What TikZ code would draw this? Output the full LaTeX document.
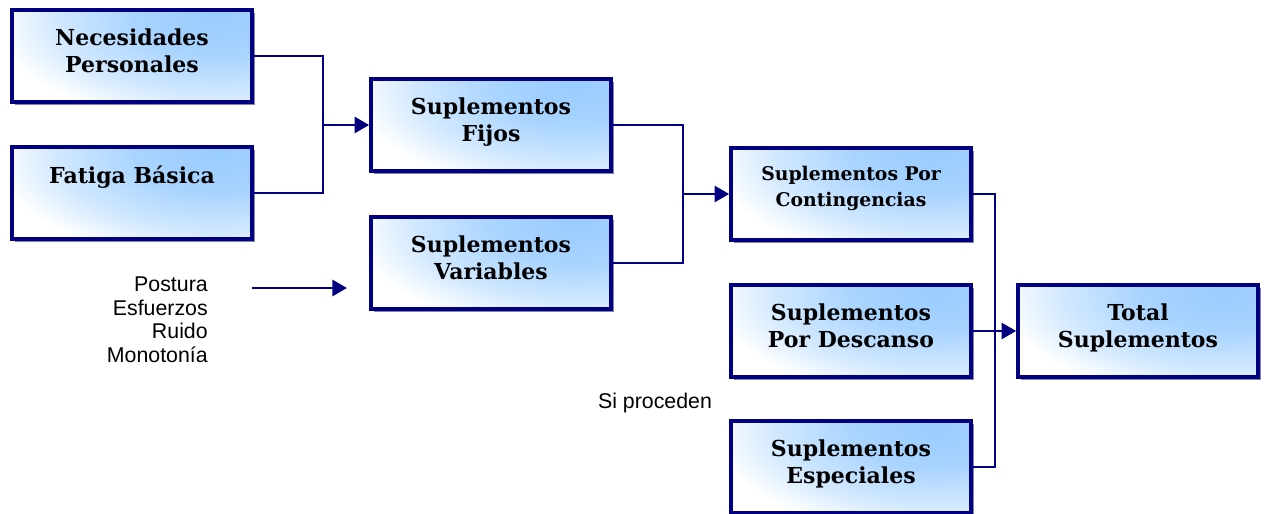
\documentclass[tikz,border=0pt]{standalone}
\usepackage{fontspec}
\setmainfont{DejaVu Serif}
\newfontfamily\arialf{Liberation Sans}
\usetikzlibrary{arrows.meta,shadows,calc}
\definecolor{navyc}{HTML}{000080}
\definecolor{skyb}{HTML}{99CCFF}
\definecolor{shadc}{HTML}{5A5A96}
\pgfdeclareradialshading{glow}{\pgfpoint{0bp}{0bp}}{color(0bp)=(skyb); color(5bp)=(skyb!85!white); color(10bp)=(skyb!45!white); color(14bp)=(white); color(50bp)=(white)}
\tikzset{
  boxnode/.style={draw=navyc, line width=2.7pt, fill=white,
    minimum width=180pt, minimum height=69pt, inner sep=0pt,
    path picture={\shade[shading=glow]
      ($(path picture bounding box.north east)+(-35,8)$) ellipse [x radius=400, y radius=190];},
    drop shadow={shadow xshift=2.2pt, shadow yshift=-2.2pt, fill=shadc, opacity=0.75}},
  boxtxt/.style={anchor=north, inner sep=0pt, align=center,
    font=\fontsize{16.5}{20.5}\selectfont\bfseries},
  boxtxtsm/.style={boxtxt, font=\fontsize{14.1}{19.5}\selectfont\bfseries},
  conn/.style={draw=navyc, line width=2.2pt},
  arr/.style={conn, -{Triangle[length=11pt,width=12pt]}},
  sanstxt/.style={inner sep=0pt, font=\arialf\fontsize{16}{17.6}\selectfont}
}
\begin{document}
\begin{tikzpicture}[x=0.75pt,y=-0.75pt]
\useasboundingbox (0,0) rectangle (1265,514);
% boxes
\node[boxnode] (np) at (132,56) {};
\node[boxnode] (fb) at (132,193) {};
\node[boxnode] (fij) at (491,125) {};
\node[boxnode] (var) at (491,263) {};
\node[boxnode] (cont) at (851,194) {};
\node[boxnode] (desc) at (851,331) {};
\node[boxnode] (esp) at (851,467) {};
\node[boxnode] (tot) at (1138,331) {};
% box texts
\node[boxtxt] (npt) at ([yshift=-15pt]np.north) {Necesidades\\Personales};
\node[boxtxt] (fbt) at ([yshift=-15pt]fb.north) {Fatiga Básica};
\node[boxtxt] (fijt) at ([yshift=-15pt]fij.north) {Suplementos\\Fijos};
\node[boxtxt] (vart) at ([yshift=-15pt]var.north) {Suplementos\\Variables};
\node[boxtxtsm] (contt) at ([yshift=-15pt]cont.north) {Suplementos Por\\Contingencias};
\node[boxtxt] (desct) at ([yshift=-15pt]desc.north) {Suplementos\\Por Descanso};
\node[boxtxt] (espt) at ([yshift=-15pt]esp.north) {Suplementos\\Especiales};
\node[boxtxt] (tott) at ([yshift=-15pt]tot.north) {Total\\Suplementos};
% plain texts
\node[sanstxt, anchor=north east, align=right] (fact) at (208,277) {Postura\\Esfuerzos\\Ruido\\Monotonía};
\node[sanstxt, anchor=north] (sip) at (655,393) {Si proceden};
% connectors
\coordinate (j1) at (323,125);
\coordinate (j2) at (683,194);
\coordinate (j3) at (995,331);
\coordinate (pa) at (252,288);
\coordinate (pb) at (347,288);
\draw[conn] (np.east) -| (j1) |- (fb.east);
\draw[arr] (j1) -- (fij.west);
\draw[conn] (fij.east) -| (j2) |- (var.east);
\draw[arr] (j2) -- (cont.west);
\draw[conn] (cont.east) -| (j3) |- (esp.east);
\draw[arr] (desc.east) -- (tot.west);
\draw[arr] (pa) -- (pb);
\end{tikzpicture}
\end{document}
